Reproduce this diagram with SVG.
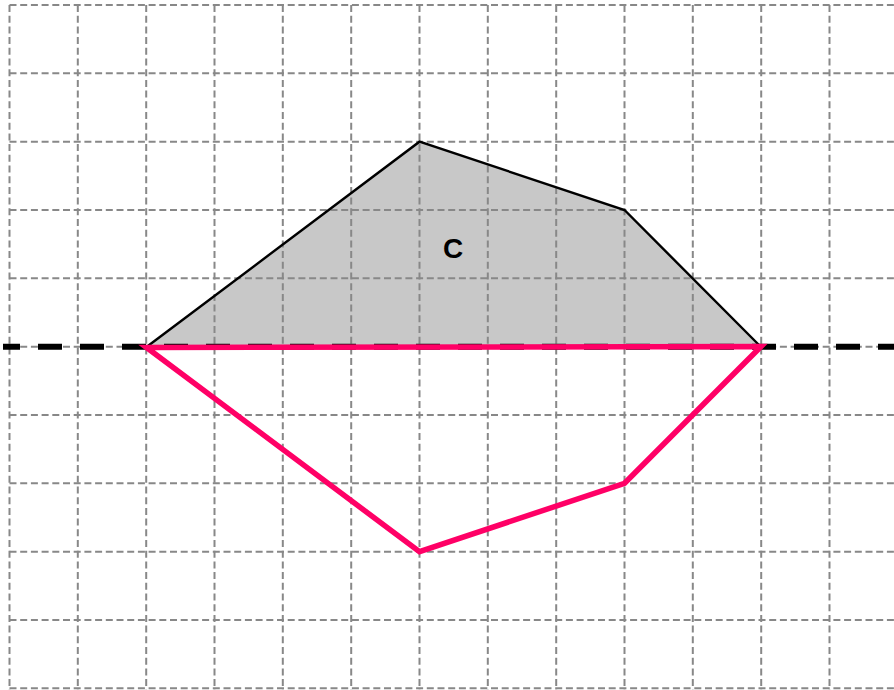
<svg xmlns="http://www.w3.org/2000/svg" width="894" height="690" viewBox="0 0 894 690">
<style>
.grid line{stroke:#888;stroke-width:2;stroke-dasharray:7,3.7}
.axis{stroke:#000;stroke-width:6;stroke-dasharray:24,18;stroke-dashoffset:7}
.pink{fill:none;stroke:#ff0066;stroke-width:5.5;stroke-linejoin:miter}
.lbl{font-family:"Liberation Sans",Arial,sans-serif;font-weight:bold;font-size:28px;fill:#000}
</style>
<rect width="894" height="690" fill="#fff"/>
<g id="C-fill">
<polygon points="146.5,347 419.5,141.7 624.5,210 761,347" fill="#c8c8c8"/>
</g>
<g class="grid" id="grid">
<line x1="9.5" y1="5" x2="9.5" y2="690"/>
<line x1="77.8" y1="5" x2="77.8" y2="690"/>
<line x1="146.2" y1="5" x2="146.2" y2="690"/>
<line x1="214.5" y1="5" x2="214.5" y2="690"/>
<line x1="282.8" y1="5" x2="282.8" y2="690"/>
<line x1="351.2" y1="5" x2="351.2" y2="690"/>
<line x1="419.5" y1="5" x2="419.5" y2="690"/>
<line x1="487.8" y1="5" x2="487.8" y2="690"/>
<line x1="556.2" y1="5" x2="556.2" y2="690"/>
<line x1="624.5" y1="5" x2="624.5" y2="690"/>
<line x1="692.8" y1="5" x2="692.8" y2="690"/>
<line x1="761.2" y1="5" x2="761.2" y2="690"/>
<line x1="829.5" y1="5" x2="829.5" y2="690"/>
<line x1="9.5" y1="5" x2="894" y2="5"/>
<line x1="9.5" y1="73.3" x2="894" y2="73.3"/>
<line x1="9.5" y1="141.7" x2="894" y2="141.7"/>
<line x1="9.5" y1="210" x2="894" y2="210"/>
<line x1="9.5" y1="278.3" x2="894" y2="278.3"/>
<line x1="9.5" y1="346.7" x2="894" y2="346.7"/>
<line x1="9.5" y1="415" x2="894" y2="415"/>
<line x1="9.5" y1="483.3" x2="894" y2="483.3"/>
<line x1="9.5" y1="551.7" x2="894" y2="551.7"/>
<line x1="9.5" y1="620" x2="894" y2="620"/>
<line x1="9.5" y1="688.3" x2="894" y2="688.3"/>
</g>
<g id="axis">
<line class="axis" x1="3" y1="346.7" x2="894" y2="346.7"/>
</g>
<g id="C">
<polyline points="146.5,347 419.5,141.7 624.5,210 761,347" fill="none" stroke="#000" stroke-width="2.4"/>
<text class="lbl" x="453" y="258" text-anchor="middle">C</text>
</g>
<g id="reflection">
<polygon class="pink" points="146.5,347.5 419.5,551.7 624.5,483.3 761,346.5"/>
</g>
</svg>
